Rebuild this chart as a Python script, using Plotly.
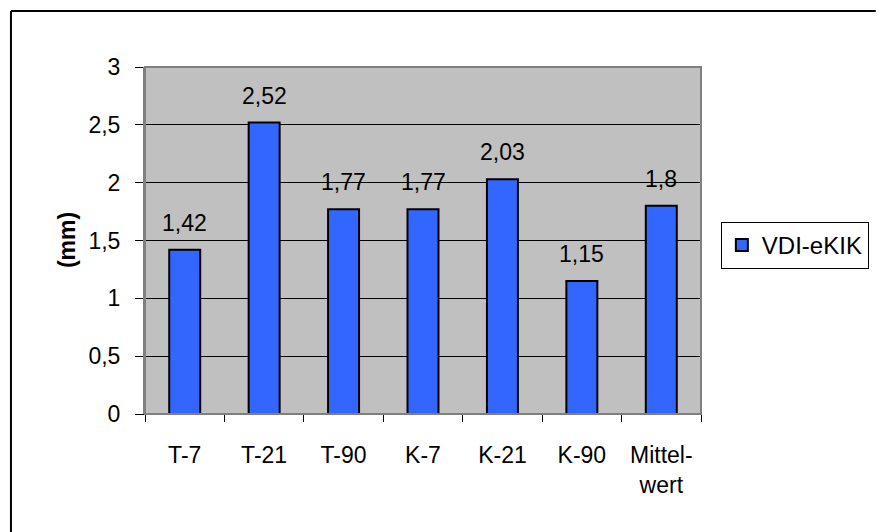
import plotly.graph_objects as go

# Kategorien und Messwerte (mm)
categories = ["T-7", "T-21", "T-90", "K-7", "K-21", "K-90", "Mittel-<br>wert"]
values = [1.42, 2.52, 1.77, 1.77, 2.03, 1.15, 1.8]
series_name = "VDI-eKIK"
y_ticks = [0, 0.5, 1, 1.5, 2, 2.5, 3]
y_tick_labels = ["0", "0,5", "1", "1,5", "2", "2,5", "3"]

FONT = "Arial, Liberation Sans, sans-serif"
W, H = 881, 532
L, R, T, B = 145, 176, 67, 118
pw, ph = W - L - R, H - T - B


def px_x(x):
    return (x - L) / pw


def px_y(y):
    return (H - B - y) / ph


def de(v):
    return f"{v:g}".replace(".", ",")


fig = go.Figure()
fig.add_trace(go.Bar(
    x=categories,
    y=values,
    name=series_name,
    width=0.39,
    marker=dict(color="#3366FF", line=dict(color="black", width=2)),
    showlegend=True,
))

# Wertebeschriftungen über den Balken
for c, v in zip(categories, values):
    fig.add_annotation(
        x=c, y=v, text=de(v), showarrow=False,
        xref="x", yref="y", yanchor="bottom", yshift=12,
        font=dict(family=FONT, size=23, color="black"),
    )

# Achsentitel
fig.add_annotation(
    x=px_x(66), y=0.5, xref="paper", yref="paper",
    text="<b>(mm)</b>", textangle=-90, showarrow=False,
    xanchor="center", yanchor="middle",
    font=dict(family=FONT, size=23, color="black"),
)

# Rahmen des Diagrammbereichs
fig.add_shape(type="rect", xref="paper", yref="paper",
              x0=0, x1=1, y0=0, y1=1,
              line=dict(color="#808080", width=2), layer="above")
# Äußerer Rahmen (oben und links sichtbar)
fig.add_shape(type="line", xref="paper", yref="paper",
              x0=px_x(10), x1=px_x(W), y0=px_y(11), y1=px_y(11),
              line=dict(color="black", width=2), layer="above")
fig.add_shape(type="line", xref="paper", yref="paper",
              x0=px_x(10), x1=px_x(10), y0=px_y(11), y1=px_y(H),
              line=dict(color="black", width=2), layer="above")

fig.update_layout(
    width=W, height=H,
    margin=dict(l=L, r=R, t=T, b=B),
    paper_bgcolor="white",
    plot_bgcolor="#C0C0C0",
    separators=", ",
    font=dict(family=FONT, size=23, color="black"),
    bargap=0.61,
    legend=dict(
        x=px_x(725), y=px_y(222), xanchor="left", yanchor="top",
        bgcolor="white", bordercolor="black", borderwidth=1,
        font=dict(family=FONT, size=24, color="black"),
        itemwidth=30, tracegroupgap=0,
    ),
    xaxis=dict(
        type="category",
        tickson="boundaries",
        ticks="outside", ticklen=7, tickcolor="black", tickwidth=1,
        showline=True, linecolor="black", linewidth=1,
        showgrid=False,
        tickfont=dict(family=FONT, size=23, color="black"),
        ticklabelstandoff=20,
    ),
    yaxis=dict(
        range=[0, 3],
        tickvals=y_ticks, ticktext=y_tick_labels,
        ticks="outside", ticklen=8, tickcolor="black", tickwidth=1,
        showline=True, linecolor="#808080", linewidth=2,
        showgrid=True, gridcolor="black", gridwidth=1,
        zeroline=True, zerolinecolor="black", zerolinewidth=1,
        tickfont=dict(family=FONT, size=23, color="black"),
        ticklabelstandoff=10,
    ),
)

fig.write_html("out.html", config={"displayModeBar": False})
